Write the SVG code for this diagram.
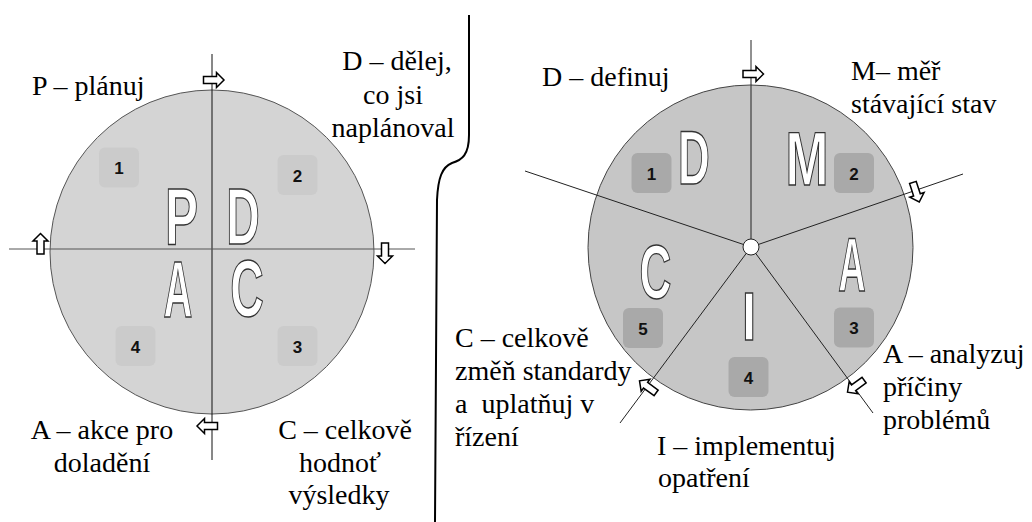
<svg xmlns="http://www.w3.org/2000/svg" width="1032" height="522" viewBox="0 0 1032 522">
<defs>
<style>
.lbl{font-family:'Liberation Serif','DejaVu Serif',serif;font-size:28px;fill:#000}
.mid{text-anchor:middle}
.big{font-family:'Liberation Sans','DejaVu Sans',sans-serif;font-weight:bold;fill:#fff;stroke:#333;stroke-width:1.4;text-anchor:middle}
.num{font-family:'Liberation Sans','DejaVu Sans',sans-serif;font-weight:bold;font-size:17px;fill:#111;text-anchor:middle}
.boxL{fill:#cbcbcb}
.boxR{fill:#a9a9a9}
.ln{stroke:#222;stroke-width:1;fill:none}
.arr{fill:#fff;stroke:#000;stroke-width:1.5}
</style>
<path id="ar" d="M-10,-3.5 H3 V-7.5 L10.5,0 L3,7.5 V3.5 H-10 Z"/>
</defs>
<rect width="1032" height="522" fill="#fff"/>

<g id="divider"><path d="M469,15 L469,135 C469,155 462,160 452,163 C442,167 438,178 437,200 L435,522" fill="none" stroke="#000" stroke-width="2"/></g>

<g id="pdca-circle"><circle cx="212" cy="252" r="162" fill="#d4d4d4" stroke="#555" stroke-width="1"/></g>
<g id="dmaic-circle"><circle cx="750.5" cy="247.5" r="162.5" fill="#c6c6c6" stroke="#444" stroke-width="1"/></g>

<g id="connectors">
<line class="ln" x1="212" y1="54" x2="212" y2="460" style="stroke:#111"/>
<line class="ln" x1="9" y1="249" x2="415" y2="249" style="stroke:#555"/>
<line class="ln" x1="751" y1="247" x2="751" y2="40"/>
<line class="ln" x1="751" y1="247" x2="525" y2="171"/>
<line class="ln" x1="751" y1="247" x2="963" y2="174"/>
<line class="ln" x1="751" y1="247" x2="620" y2="423"/>
<line class="ln" x1="751" y1="247" x2="873" y2="413"/>
<circle cx="751" cy="247" r="8" fill="#fff" stroke="#222" stroke-width="1"/>
<use href="#ar" class="arr" transform="translate(213.5,80)"/>
<use href="#ar" class="arr" transform="translate(40.5,244) rotate(-90)"/>
<use href="#ar" class="arr" transform="translate(385,253) rotate(90)"/>
<use href="#ar" class="arr" transform="translate(207.5,426) rotate(180)"/>
<use href="#ar" class="arr" transform="translate(753,74)"/>
<use href="#ar" class="arr" transform="translate(916,192) rotate(72)"/>
<use href="#ar" class="arr" transform="translate(856,386) rotate(144)"/>
<use href="#ar" class="arr" transform="translate(648,387) rotate(216)"/>
</g>

<g id="pdca-P">
<rect class="boxL" x="99" y="147.5" width="40" height="40" rx="6"/>
<text class="num" x="119" y="174">1</text>
<text class="big" font-size="80" transform="translate(181.5,244) scale(0.62,1)">P</text>
<text class="lbl" x="32" y="95" font-family="Liberation Serif, DejaVu Serif, serif">P – plánuj</text>
</g>
<g id="pdca-D">
<rect class="boxL" x="277.5" y="155" width="40" height="40" rx="6"/>
<text class="num" x="297.5" y="181.5">2</text>
<text class="big" font-size="80" transform="translate(243,244) scale(0.58,1)">D</text>
<text class="lbl mid" x="397" y="70">D – dělej,</text>
<text class="lbl mid" x="393" y="104">co jsi</text>
<text class="lbl mid" x="393" y="137">naplánoval</text>
</g>
<g id="pdca-C">
<rect class="boxL" x="277.5" y="326" width="40" height="40" rx="6"/>
<text class="num" x="297.5" y="352.5">3</text>
<text class="big" font-size="80" transform="translate(247,316) scale(0.58,1)">C</text>
<text class="lbl mid" x="345" y="439">C – celkově</text>
<text class="lbl mid" x="340" y="472">hodnoť</text>
<text class="lbl mid" x="339" y="504">výsledky</text>
</g>
<g id="pdca-A">
<rect class="boxL" x="115.5" y="326" width="40" height="40" rx="6"/>
<text class="num" x="135.5" y="352.5">4</text>
<text class="big" font-size="80" transform="translate(178,317) scale(0.5,1)">A</text>
<text class="lbl mid" x="102" y="439">A – akce pro</text>
<text class="lbl mid" x="102" y="472">doladění</text>
</g>

<g id="dmaic-D">
<rect class="boxR" x="631.5" y="153" width="40" height="40" rx="6"/>
<text class="num" x="651.5" y="179.5">1</text>
<text class="big" font-size="76" transform="translate(694,184) scale(0.58,1)">D</text>
<text class="lbl" x="542" y="86">D – definuj</text>
</g>
<g id="dmaic-M">
<rect class="boxR" x="834" y="153" width="40" height="40" rx="6"/>
<text class="num" x="854" y="179.5">2</text>
<text class="big" font-size="76" transform="translate(807,185) scale(0.68,1)">M</text>
<text class="lbl" x="851" y="80">M– měř</text>
<text class="lbl" x="851" y="113">stávající stav</text>
</g>
<g id="dmaic-A">
<rect class="boxR" x="834" y="307.5" width="40" height="40" rx="6"/>
<text class="num" x="854" y="334">3</text>
<text class="big" font-size="76" transform="translate(852,291) scale(0.5,1)">A</text>
<text class="lbl" x="883" y="363">A – analyzuj</text>
<text class="lbl" x="883" y="396">příčiny</text>
<text class="lbl" x="883" y="429">problémů</text>
</g>
<g id="dmaic-I">
<rect class="boxR" x="728.5" y="357" width="40" height="40" rx="6"/>
<text class="num" x="748.5" y="383.5">4</text>
<text class="big" font-size="68" transform="translate(749,340) scale(0.75,1)">I</text>
<text class="lbl" x="657" y="455">I – implementuj</text>
<text class="lbl" x="658" y="487">opatření</text>
</g>
<g id="dmaic-C">
<rect class="boxR" x="623" y="308" width="40" height="40" rx="6"/>
<text class="num" x="643" y="334.5">5</text>
<text class="big" font-size="76" transform="translate(655.5,298) scale(0.58,1)">C</text>
<text class="lbl" x="455" y="347">C – celkově</text>
<text class="lbl" x="455" y="380">změň standardy</text>
<text class="lbl" x="455" y="413" xml:space="preserve">a  uplatňuj v</text>
<text class="lbl" x="455" y="446">řízení</text>
</g>
</svg>
